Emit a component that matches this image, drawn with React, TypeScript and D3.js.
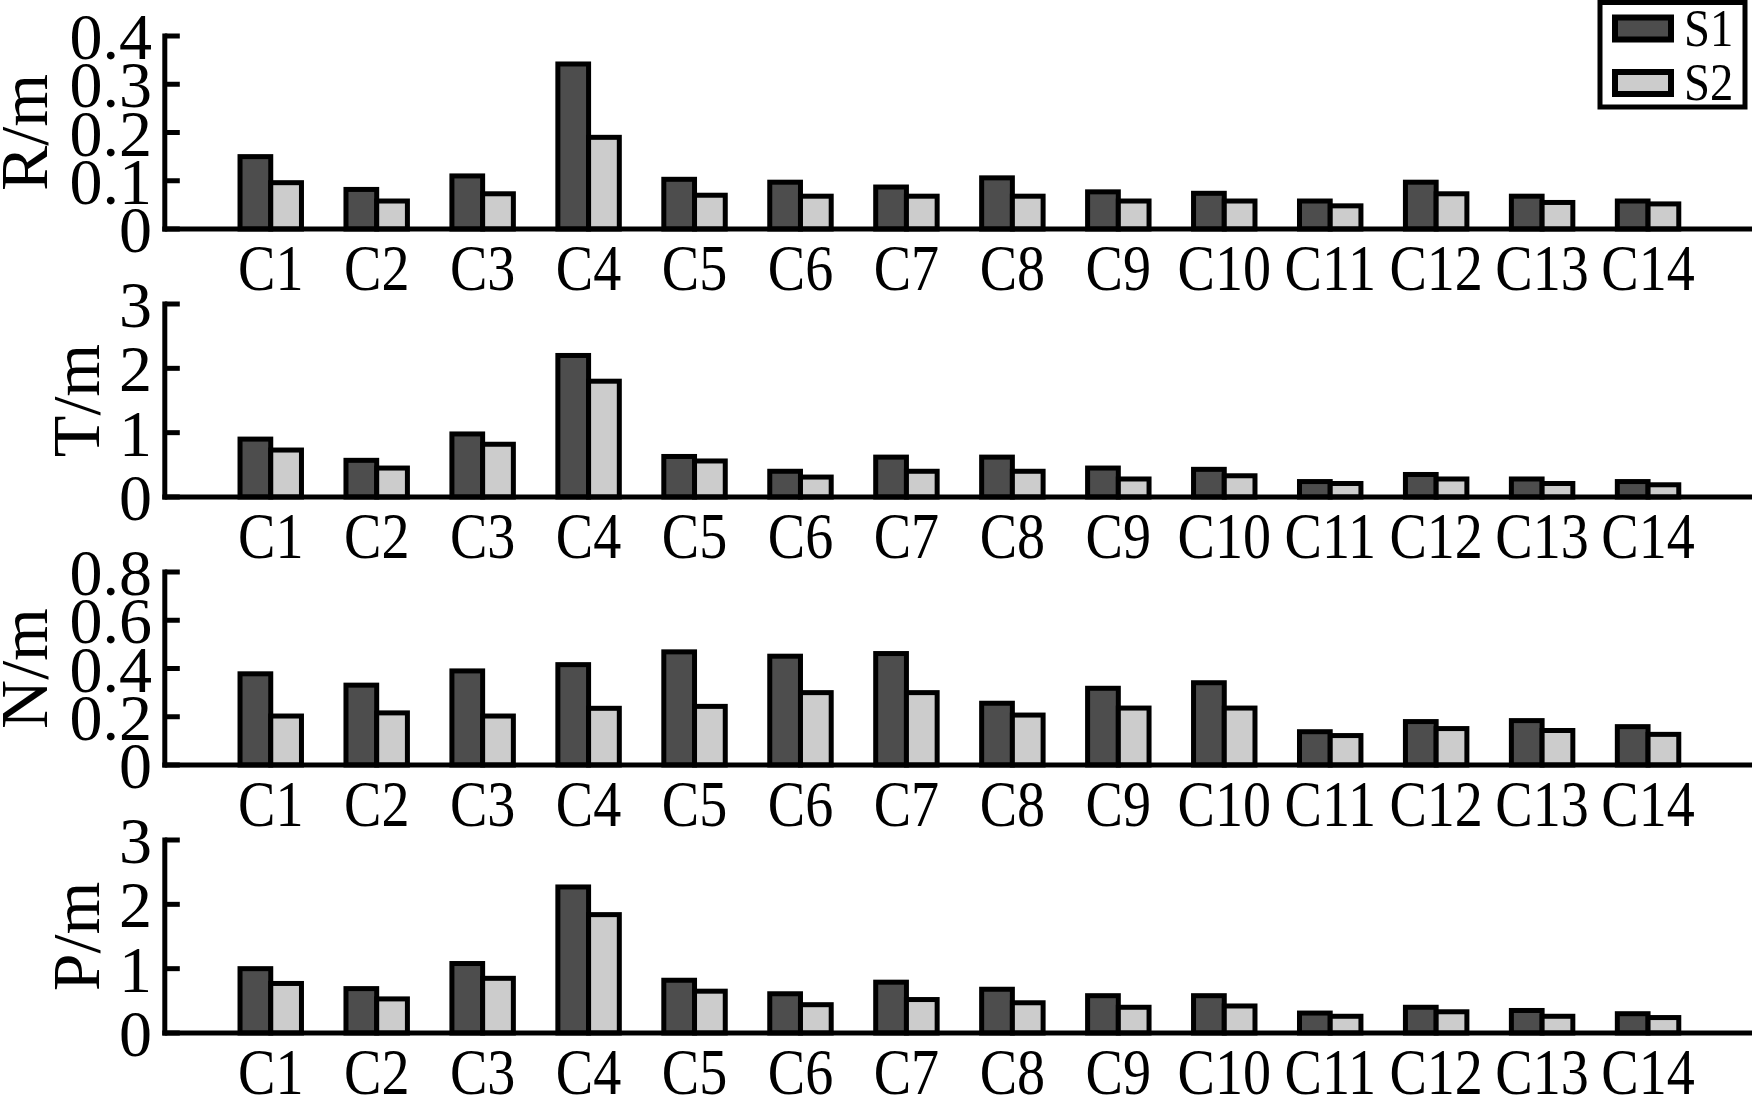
import React from "react";
import * as d3 from "d3";

// Categories and series
const categories = ["C1","C2","C3","C4","C5","C6","C7","C8","C9","C10","C11","C12","C13","C14"];
const seriesNames = ["S1", "S2"];

// R/m
const rS1 = [0.15, 0.082, 0.11, 0.342, 0.103, 0.097, 0.087, 0.106, 0.077, 0.074, 0.058, 0.097, 0.068, 0.058];
const rS2 = [0.096, 0.058, 0.073, 0.19, 0.07, 0.068, 0.068, 0.068, 0.058, 0.058, 0.048, 0.073, 0.055, 0.052];
// T/m
const tS1 = [0.9, 0.57, 0.98, 2.2, 0.63, 0.4, 0.62, 0.62, 0.45, 0.43, 0.24, 0.35, 0.28, 0.24];
const tS2 = [0.73, 0.45, 0.82, 1.8, 0.56, 0.31, 0.4, 0.4, 0.28, 0.33, 0.21, 0.28, 0.21, 0.19];
// N/m
const nS1 = [0.378, 0.331, 0.39, 0.416, 0.469, 0.451, 0.462, 0.256, 0.318, 0.341, 0.138, 0.18, 0.184, 0.159];
const nS2 = [0.203, 0.216, 0.203, 0.235, 0.243, 0.3, 0.3, 0.207, 0.236, 0.236, 0.122, 0.151, 0.143, 0.127];
// P/m
const pS1 = [1.0, 0.69, 1.08, 2.27, 0.82, 0.61, 0.79, 0.68, 0.58, 0.58, 0.31, 0.4, 0.35, 0.3];
const pS2 = [0.77, 0.53, 0.85, 1.84, 0.65, 0.44, 0.52, 0.47, 0.4, 0.42, 0.26, 0.33, 0.26, 0.24];

// Axis ticks
const rTicks = [0, 0.1, 0.2, 0.3, 0.4];
const tTicks = [0, 1, 2, 3];
const nTicks = [0, 0.2, 0.4, 0.6, 0.8];
const pTicks = [0, 1, 2, 3];

const panels = [
  { label: "R/m", s1: rS1, s2: rS2, ticks: rTicks, titleX: 47 },
  { label: "T/m", s1: tS1, s2: tS2, ticks: tTicks, titleX: 99 },
  { label: "N/m", s1: nS1, s2: nS2, ticks: nTicks, titleX: 47 },
  { label: "P/m", s1: pS1, s2: pS2, ticks: pTicks, titleX: 99 },
];

const W = 1752;
const H = 1096;
const FONT = "'Liberation Serif', 'Times New Roman', serif";
const DARK = "#4d4d4d";
const LIGHT = "#cccccc";
const AXIS_X = 164.8;
const PANEL_TOP0 = 36;
const PANEL_STEP = 268;
const PANEL_H = 193;
const BAR_W = 0.29;
const STROKE = 5;

const x = d3.scaleLinear().domain([0, 15]).range([AXIS_X, 1754]);

function Panel({ p, k }: { p: typeof panels[number]; k: number }) {
  const top = PANEL_TOP0 + k * PANEL_STEP;
  const bottom = top + PANEL_H;
  const yMax = p.ticks[p.ticks.length - 1];
  const y = d3.scaleLinear().domain([0, yMax]).range([bottom, top]);
  const fmt = (v: number) => (v === 0 ? "0" : String(v));
  return (
    <g>
      {/* bars: first series left of the category, second series right */}
      {[p.s1, p.s2].map((vals, s) =>
        vals.map((v, i) => {
          const x0 = s === 0 ? x(i + 1 - BAR_W) : x(i + 1);
          const x1 = s === 0 ? x(i + 1) : x(i + 1 + BAR_W);
          return (
            <rect
              key={`${s}-${i}`}
              x={x0}
              y={y(v)}
              width={x1 - x0}
              height={y(0) - y(v)}
              fill={s === 0 ? DARK : LIGHT}
              stroke="#000"
              strokeWidth={STROKE}
            />
          );
        })
      )}
      {/* axes */}
      <line x1={AXIS_X} x2={AXIS_X} y1={top - 2.5} y2={bottom + 2.5} stroke="#000" strokeWidth={STROKE} />
      <line x1={AXIS_X - 2.5} x2={W} y1={bottom} y2={bottom} stroke="#000" strokeWidth={STROKE} />
      {p.ticks.map((t) => (
        <g key={t}>
          <line x1={AXIS_X} x2={AXIS_X + 15} y1={y(t)} y2={y(t)} stroke="#000" strokeWidth={STROKE} />
          <text x={152} y={y(t) + 23} fontSize={66} fontFamily={FONT} textAnchor="end" fill="#000">
            {fmt(t)}
          </text>
        </g>
      ))}
      {categories.map((c, i) => (
        <text
          key={c}
          transform={`translate(${x(i + 1)},${bottom + 61}) scale(0.85,1)`}
          fontSize={66}
          fontFamily={FONT}
          textAnchor="middle"
          fill="#000"
        >
          {c}
        </text>
      ))}
      <text
        transform={`translate(${p.titleX},${(top + bottom) / 2}) rotate(-90)`}
        fontSize={68}
        fontFamily={FONT}
        textAnchor="middle"
        fill="#000"
      >
        {p.label}
      </text>
    </g>
  );
}

function Legend() {
  const rows = [
    { name: seriesNames[0], fill: DARK, cy: 28.5 },
    { name: seriesNames[1], fill: LIGHT, cy: 83 },
  ];
  return (
    <g>
      <rect x={1600} y={2.5} width={145} height={104.5} fill="#fff" stroke="#000" strokeWidth={STROKE} />
      {rows.map((r) => (
        <g key={r.name}>
          <rect x={1615} y={r.cy - 11} width={56} height={22} fill={r.fill} stroke="#000" strokeWidth={6} />
          <text
            transform={`translate(1684,${r.cy + 17}) scale(0.88,1)`}
            fontSize={53}
            fontFamily={FONT}
            fill="#000"
          >
            {r.name}
          </text>
        </g>
      ))}
    </g>
  );
}

export default function App() {
  return (
    <div style={{ position: "fixed", left: 0, top: 0, width: W, height: H, background: "#fff" }}>
      <svg width={W} height={H} viewBox={`0 0 ${W} ${H}`} style={{ display: "block" }}>
        <rect x={0} y={0} width={W} height={H} fill="#fff" />
        {panels.map((p, k) => (
          <Panel key={p.label} p={p} k={k} />
        ))}
        <Legend />
      </svg>
    </div>
  );
}
